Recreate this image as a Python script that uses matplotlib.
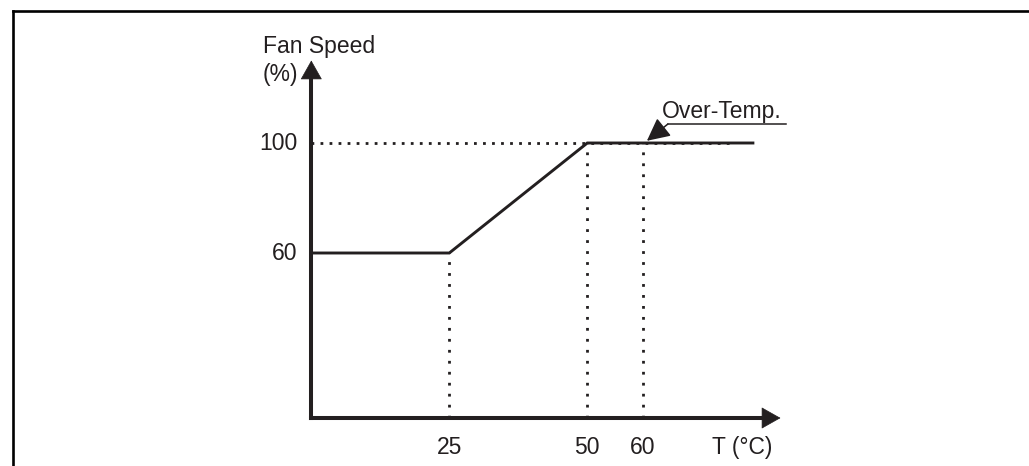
import matplotlib
matplotlib.use("Agg")
import matplotlib.pyplot as plt
from matplotlib.lines import Line2D

# ---- data ----
temps = [0, 25, 50, 80]          # T (°C)
fan_speed = [60, 60, 100, 100]   # Fan speed (%)
x_ticks = [25, 50, 60]
x_tick_labels = ["25", "50", "60"]
y_ticks = [60, 100]
y_tick_labels = ["60", "100"]
over_temp = 60

INK = "#231f20"
plt.rcParams["font.family"] = ["Liberation Sans", "DejaVu Sans"]
FS = 16.5

W, H = 1029, 466
fig = plt.figure(figsize=(W / 100, H / 100), dpi=100)
ax = fig.add_axes([0, 0, 1, 1])
ax.set_axis_off()

# pixel mapping: T=0 at x=311.3 px, 5.52 px/unit ; y=0 at 418 px from top, 2.75 px/unit
x0, sx = 311.3, 5.52
y0, sy = 418.0, 2.75
ax.set_xlim(-x0 / sx, (W - x0) / sx)
ax.set_ylim(-(H - y0) / sy, y0 / sy)

# frame (decorative border)
fig.add_artist(Line2D([13 / W, 1.0], [1 - 11 / H, 1 - 11 / H], transform=fig.transFigure,
                      color="black", lw=1.9, solid_capstyle="projecting"))
fig.add_artist(Line2D([13 / W, 13 / W], [0, 1 - 11 / H], transform=fig.transFigure,
                      color="black", lw=1.9, solid_capstyle="projecting"))

x_end = 85
y_end = 130

# dotted guides
dot_h = (0, (1, 2.25))
dot_v = (0, (1, 2.95))
ax.plot([0, 76], [100, 100], color=INK, lw=2.0, linestyle=dot_h, dash_capstyle="butt")
for xt in x_ticks:
    top = 60 if xt == 25 else 100
    ax.plot([xt, xt], [0, top], color=INK, lw=2.0, linestyle=dot_v, dash_capstyle="butt")

# curve
ax.plot(temps, fan_speed, color=INK, lw=2.1, solid_joinstyle="miter", zorder=3)

# axes with arrows
ax.plot([0, 0], [0, 124], color=INK, lw=2.9, solid_capstyle="projecting", zorder=4)
ax.plot([0, 82], [0, 0], color=INK, lw=2.9, solid_capstyle="projecting", zorder=4)
ax.annotate("", xy=(0, y_end), xytext=(0, 120),
            arrowprops=dict(arrowstyle="-|>,head_length=0.85,head_width=0.48",
                            mutation_scale=15, color=INK, lw=0.5, shrinkA=0, shrinkB=0), zorder=5)
ax.annotate("", xy=(x_end, 0), xytext=(78, 0),
            arrowprops=dict(arrowstyle="-|>,head_length=0.85,head_width=0.48",
                            mutation_scale=15, color=INK, lw=0.5, shrinkA=0, shrinkB=0), zorder=5)

# tick labels
for yt, lab in zip(y_ticks, y_tick_labels):
    ax.annotate(lab, xy=(0, yt), xytext=(-10, 0), textcoords="offset points",
                ha="right", va="center", fontsize=FS, color=INK)
for xt, lab in zip(x_ticks, x_tick_labels):
    ax.annotate(lab, xy=(xt, 0), xytext=(0, -21), textcoords="offset points",
                ha="center", va="center", fontsize=FS, color=INK)

# axis titles
ax.text(-8.75, 132.7, "Fan Speed", ha="left", va="baseline", fontsize=FS, color=INK)
ax.text(-8.75, 122.5, "(%)", ha="left", va="baseline", fontsize=FS, color=INK)
ax.annotate("T (°C)", xy=(78, 0), xytext=(0, -21), textcoords="offset points",
            ha="center", va="center", fontsize=FS, color=INK)

# Over-Temp annotation
ax.text(63.5, 109, "Over-Temp.", ha="left", va="baseline", fontsize=FS, color=INK)
ax.plot([64.6, 86.0], [106.9, 106.9], color=INK, lw=1.1)
ax.annotate("", xy=(over_temp + 0.8, 100.8), xytext=(64.6, 106.9),
            arrowprops=dict(arrowstyle="-|>,head_length=1.0,head_width=0.5",
                            mutation_scale=14, color=INK, lw=1.1, shrinkA=0, shrinkB=0))

fig.savefig("out.png", dpi=100, facecolor="white")
